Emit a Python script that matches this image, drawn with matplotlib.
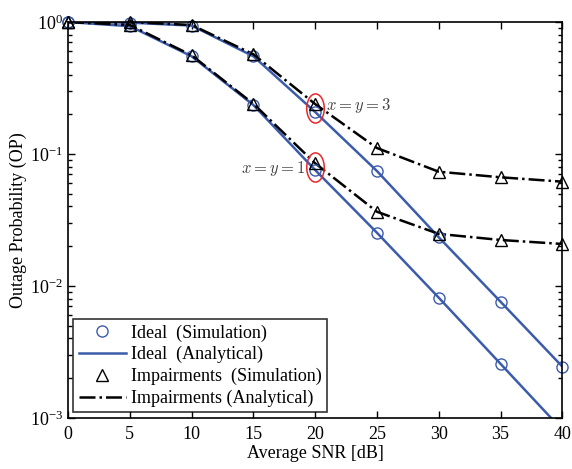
#! /usr/bin/env python

"""
Outage probability vs average SNR, ideal vs impairments
"""

import matplotlib
matplotlib.use('Agg')

import numpy as np
import matplotlib.pyplot as plt
from matplotlib.path import Path

plt.rcParams['font.family'] = ['Liberation Serif', 'DejaVu Serif']
plt.rcParams['mathtext.fontset'] = 'custom'
plt.rcParams['mathtext.rm'] = 'Liberation Serif'
plt.rcParams['mathtext.it'] = 'Liberation Serif:italic'

snr_db = [0, 5, 10, 15, 20, 25, 30, 35, 40]

# x = y = 1
ideal_1 = [1.0, 0.93, 0.55, 0.235, 0.0756, 0.0253, 0.00815, 0.00257, 0.00081]
impair_1 = [1.0, 0.95, 0.56, 0.24, 0.085, 0.0365, 0.0248, 0.0223, 0.0208]

# x = y = 3
ideal_3 = [1.0, 0.99, 0.94, 0.55, 0.208, 0.0743, 0.0234, 0.0076, 0.00245]
impair_3 = [1.0, 1.0, 0.95, 0.57, 0.239, 0.111, 0.0734, 0.0666, 0.0617]

BLUE = '#3b5bab'

fig = plt.figure(figsize=(5.72, 4.69), dpi=100)
ax = fig.add_axes([0.119, 0.109, 0.864, 0.844])
ax.set_yscale('log')
ax.set_xlim(0, 40)
ax.set_ylim(1e-3, 1)

# analytical curves
ax.plot(snr_db, ideal_1, '-', color=BLUE, lw=1.8)
ax.plot(snr_db, ideal_3, '-', color=BLUE, lw=1.8)
ax.plot(snr_db, impair_1, '-.', color='black', lw=1.8)
ax.plot(snr_db, impair_3, '-.', color='black', lw=1.8)

# simulation markers (skip the one below the axis)
show = [v >= 1e-3 for v in ideal_1]
ax.plot(np.array(snr_db)[show], np.array(ideal_1)[show], 'o', mfc='none',
        mec=BLUE, ms=8, mew=1.0, clip_on=False)
ax.plot(snr_db, ideal_3, 'o', mfc='none', mec=BLUE, ms=8, mew=1.0, clip_on=False)
ax.plot(snr_db, impair_1, '^', mfc='none', mec='black', ms=8.5, mew=1.0, clip_on=False)
ax.plot(snr_db, impair_3, '^', mfc='none', mec='black', ms=8.5, mew=1.0, clip_on=False)

# red ellipses around the 20 dB points
theta = np.linspace(0, 2 * np.pi, 60)
ell = Path(np.column_stack([0.3 * np.cos(theta), 0.5 * np.sin(theta)]))
i20 = snr_db.index(20)
for lo, hi in [(ideal_1[i20], impair_1[i20]), (ideal_3[i20], impair_3[i20])]:
    ax.plot([20], [np.sqrt(lo * hi)], marker=ell, ms=21, mfc='none',
            mec='#e8272a', mew=1.1, clip_on=False)

ax.text(20.9, 0.235, r'$x=y=3$', fontsize=12, color='#444444', va='center',
        ha='left', math_fontfamily='cm')
ax.text(19.2, 0.077, r'$x=y=1$', fontsize=12, color='#444444', va='center',
        ha='right', math_fontfamily='cm')

ax.set_xticks(range(0, 41, 5))
ax.tick_params(which='both', direction='in', top=True, right=True,
               labelsize=13, width=1.0)
ax.tick_params(which='major', length=5)
ax.tick_params(which='minor', length=3)
ax.tick_params(axis='x', pad=6)
for s in ax.spines.values():
    s.set_linewidth(1.2)

ax.set_xlabel('Average SNR [dB]', fontsize=13, labelpad=1)
ax.set_ylabel('Outage Probability (OP)', fontsize=13, labelpad=2)

# legend with separate marker/line entries
h1, = ax.plot([], [], 'o', mfc='none', mec=BLUE, ms=8, mew=1.0)
h2, = ax.plot([], [], '-', color=BLUE, lw=1.8)
h3, = ax.plot([], [], '^', mfc='none', mec='black', ms=8.5, mew=1.0)
h4, = ax.plot([], [], '-.', color='black', lw=1.8)
leg = ax.legend([h1, h2, h3, h4],
                ['Ideal  (Simulation)', 'Ideal  (Analytical)',
                 'Impairments  (Simulation)', 'Impairments (Analytical)'],
                loc='lower left', fontsize=13, frameon=True, fancybox=False,
                edgecolor='black', handlelength=2.6, handletextpad=0.3,
                labelspacing=0.25, borderpad=0.3, borderaxespad=0.3)
leg.get_frame().set_linewidth(1.2)

fig.savefig('out.png', dpi=100)
